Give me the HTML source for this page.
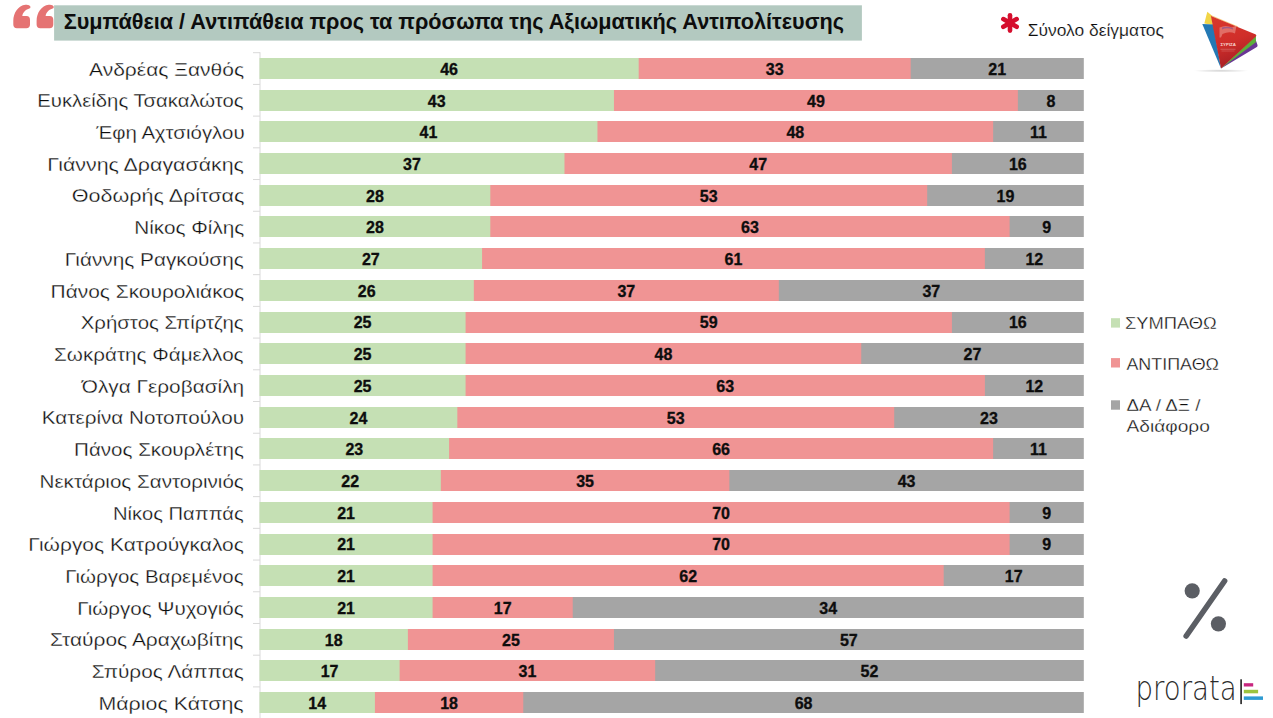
<!DOCTYPE html>
<html><head><meta charset="utf-8"><title>Συμπάθεια / Αντιπάθεια</title>
<style>html,body{margin:0;padding:0;background:#fff;}body{width:1273px;height:718px;overflow:hidden;}svg{display:block;}</style>
</head><body>
<svg width="1273" height="718" viewBox="0 0 1273 718">
<line x1="260.0" y1="52.2" x2="260.0" y2="718" stroke="#D9D9D9" stroke-width="1"/>
<line x1="253" y1="52.70" x2="260.0" y2="52.70" stroke="#D9D9D9" stroke-width="1"/>
<line x1="253" y1="84.41" x2="260.0" y2="84.41" stroke="#D9D9D9" stroke-width="1"/>
<line x1="253" y1="116.12" x2="260.0" y2="116.12" stroke="#D9D9D9" stroke-width="1"/>
<line x1="253" y1="147.83" x2="260.0" y2="147.83" stroke="#D9D9D9" stroke-width="1"/>
<line x1="253" y1="179.54" x2="260.0" y2="179.54" stroke="#D9D9D9" stroke-width="1"/>
<line x1="253" y1="211.25" x2="260.0" y2="211.25" stroke="#D9D9D9" stroke-width="1"/>
<line x1="253" y1="242.96" x2="260.0" y2="242.96" stroke="#D9D9D9" stroke-width="1"/>
<line x1="253" y1="274.67" x2="260.0" y2="274.67" stroke="#D9D9D9" stroke-width="1"/>
<line x1="253" y1="306.38" x2="260.0" y2="306.38" stroke="#D9D9D9" stroke-width="1"/>
<line x1="253" y1="338.09" x2="260.0" y2="338.09" stroke="#D9D9D9" stroke-width="1"/>
<line x1="253" y1="369.80" x2="260.0" y2="369.80" stroke="#D9D9D9" stroke-width="1"/>
<line x1="253" y1="401.51" x2="260.0" y2="401.51" stroke="#D9D9D9" stroke-width="1"/>
<line x1="253" y1="433.22" x2="260.0" y2="433.22" stroke="#D9D9D9" stroke-width="1"/>
<line x1="253" y1="464.93" x2="260.0" y2="464.93" stroke="#D9D9D9" stroke-width="1"/>
<line x1="253" y1="496.64" x2="260.0" y2="496.64" stroke="#D9D9D9" stroke-width="1"/>
<line x1="253" y1="528.35" x2="260.0" y2="528.35" stroke="#D9D9D9" stroke-width="1"/>
<line x1="253" y1="560.06" x2="260.0" y2="560.06" stroke="#D9D9D9" stroke-width="1"/>
<line x1="253" y1="591.77" x2="260.0" y2="591.77" stroke="#D9D9D9" stroke-width="1"/>
<line x1="253" y1="623.48" x2="260.0" y2="623.48" stroke="#D9D9D9" stroke-width="1"/>
<line x1="253" y1="655.19" x2="260.0" y2="655.19" stroke="#D9D9D9" stroke-width="1"/>
<line x1="253" y1="686.90" x2="260.0" y2="686.90" stroke="#D9D9D9" stroke-width="1"/>
<line x1="253" y1="718.61" x2="260.0" y2="718.61" stroke="#D9D9D9" stroke-width="1"/>
<rect x="909.70" y="58" width="174.10" height="21" fill="#A5A5A5"/>
<rect x="637.68" y="58" width="273.02" height="21" fill="#F09494"/>
<rect x="259.50" y="58" width="379.18" height="21" fill="#C5E0B4"/>
<text transform="translate(89.00,75.60) scale(1.0950,1)" font-family="Liberation Sans, sans-serif" font-size="19.2" font-weight="normal" fill="#0d0d0d" stroke="#fff" stroke-width="0.3">Ανδρέας Ξανθός</text>
<text x="449.09" y="74.80" text-anchor="middle" font-family="Liberation Sans, sans-serif" font-size="16" font-weight="bold" fill="#0d0d0d" stroke="#0d0d0d" stroke-width="0.3">46</text>
<text x="774.69" y="74.80" text-anchor="middle" font-family="Liberation Sans, sans-serif" font-size="16" font-weight="bold" fill="#0d0d0d" stroke="#0d0d0d" stroke-width="0.3">33</text>
<text x="997.25" y="74.80" text-anchor="middle" font-family="Liberation Sans, sans-serif" font-size="16" font-weight="bold" fill="#0d0d0d" stroke="#0d0d0d" stroke-width="0.3">21</text>
<rect x="1016.86" y="90" width="66.94" height="21" fill="#A5A5A5"/>
<rect x="612.95" y="90" width="404.91" height="21" fill="#F09494"/>
<rect x="259.50" y="90" width="354.45" height="21" fill="#C5E0B4"/>
<text transform="translate(37.34,107.31) scale(1.0567,1)" font-family="Liberation Sans, sans-serif" font-size="19.2" font-weight="normal" fill="#0d0d0d" stroke="#fff" stroke-width="0.3">Ευκλείδης Τσακαλώτος</text>
<text x="436.72" y="106.51" text-anchor="middle" font-family="Liberation Sans, sans-serif" font-size="16" font-weight="bold" fill="#0d0d0d" stroke="#0d0d0d" stroke-width="0.3">43</text>
<text x="815.90" y="106.51" text-anchor="middle" font-family="Liberation Sans, sans-serif" font-size="16" font-weight="bold" fill="#0d0d0d" stroke="#0d0d0d" stroke-width="0.3">49</text>
<text x="1050.83" y="106.51" text-anchor="middle" font-family="Liberation Sans, sans-serif" font-size="16" font-weight="bold" fill="#0d0d0d" stroke="#0d0d0d" stroke-width="0.3">8</text>
<rect x="992.13" y="121" width="91.67" height="21" fill="#A5A5A5"/>
<rect x="596.46" y="121" width="396.66" height="21" fill="#F09494"/>
<rect x="259.50" y="121" width="337.96" height="21" fill="#C5E0B4"/>
<text transform="translate(96.20,139.02) scale(1.0667,1)" font-family="Liberation Sans, sans-serif" font-size="19.2" font-weight="normal" fill="#0d0d0d" stroke="#fff" stroke-width="0.3">Έφη Αχτσιόγλου</text>
<text x="428.48" y="138.22" text-anchor="middle" font-family="Liberation Sans, sans-serif" font-size="16" font-weight="bold" fill="#0d0d0d" stroke="#0d0d0d" stroke-width="0.3">41</text>
<text x="795.30" y="138.22" text-anchor="middle" font-family="Liberation Sans, sans-serif" font-size="16" font-weight="bold" fill="#0d0d0d" stroke="#0d0d0d" stroke-width="0.3">48</text>
<text x="1038.46" y="138.22" text-anchor="middle" font-family="Liberation Sans, sans-serif" font-size="16" font-weight="bold" fill="#0d0d0d" stroke="#0d0d0d" stroke-width="0.3">11</text>
<rect x="950.91" y="153" width="132.89" height="21" fill="#A5A5A5"/>
<rect x="563.49" y="153" width="388.42" height="21" fill="#F09494"/>
<rect x="259.50" y="153" width="304.99" height="21" fill="#C5E0B4"/>
<text transform="translate(47.29,170.73) scale(1.1143,1)" font-family="Liberation Sans, sans-serif" font-size="19.2" font-weight="normal" fill="#0d0d0d" stroke="#fff" stroke-width="0.3">Γιάννης Δραγασάκης</text>
<text x="412.00" y="169.93" text-anchor="middle" font-family="Liberation Sans, sans-serif" font-size="16" font-weight="bold" fill="#0d0d0d" stroke="#0d0d0d" stroke-width="0.3">37</text>
<text x="758.20" y="169.93" text-anchor="middle" font-family="Liberation Sans, sans-serif" font-size="16" font-weight="bold" fill="#0d0d0d" stroke="#0d0d0d" stroke-width="0.3">47</text>
<text x="1017.86" y="169.93" text-anchor="middle" font-family="Liberation Sans, sans-serif" font-size="16" font-weight="bold" fill="#0d0d0d" stroke="#0d0d0d" stroke-width="0.3">16</text>
<rect x="926.18" y="185" width="157.62" height="21" fill="#A5A5A5"/>
<rect x="489.30" y="185" width="437.88" height="21" fill="#F09494"/>
<rect x="259.50" y="185" width="230.80" height="21" fill="#C5E0B4"/>
<text transform="translate(71.78,202.44) scale(1.1217,1)" font-family="Liberation Sans, sans-serif" font-size="19.2" font-weight="normal" fill="#0d0d0d" stroke="#fff" stroke-width="0.3">Θοδωρής Δρίτσας</text>
<text x="374.90" y="201.64" text-anchor="middle" font-family="Liberation Sans, sans-serif" font-size="16" font-weight="bold" fill="#0d0d0d" stroke="#0d0d0d" stroke-width="0.3">28</text>
<text x="708.74" y="201.64" text-anchor="middle" font-family="Liberation Sans, sans-serif" font-size="16" font-weight="bold" fill="#0d0d0d" stroke="#0d0d0d" stroke-width="0.3">53</text>
<text x="1005.49" y="201.64" text-anchor="middle" font-family="Liberation Sans, sans-serif" font-size="16" font-weight="bold" fill="#0d0d0d" stroke="#0d0d0d" stroke-width="0.3">19</text>
<rect x="1008.61" y="216" width="75.19" height="21" fill="#A5A5A5"/>
<rect x="489.30" y="216" width="520.31" height="21" fill="#F09494"/>
<rect x="259.50" y="216" width="230.80" height="21" fill="#C5E0B4"/>
<text transform="translate(134.22,234.15) scale(1.0810,1)" font-family="Liberation Sans, sans-serif" font-size="19.2" font-weight="normal" fill="#0d0d0d" stroke="#fff" stroke-width="0.3">Νίκος Φίλης</text>
<text x="374.90" y="233.35" text-anchor="middle" font-family="Liberation Sans, sans-serif" font-size="16" font-weight="bold" fill="#0d0d0d" stroke="#0d0d0d" stroke-width="0.3">28</text>
<text x="749.96" y="233.35" text-anchor="middle" font-family="Liberation Sans, sans-serif" font-size="16" font-weight="bold" fill="#0d0d0d" stroke="#0d0d0d" stroke-width="0.3">63</text>
<text x="1046.71" y="233.35" text-anchor="middle" font-family="Liberation Sans, sans-serif" font-size="16" font-weight="bold" fill="#0d0d0d" stroke="#0d0d0d" stroke-width="0.3">9</text>
<rect x="983.88" y="248" width="99.92" height="21" fill="#A5A5A5"/>
<rect x="481.06" y="248" width="503.82" height="21" fill="#F09494"/>
<rect x="259.50" y="248" width="222.56" height="21" fill="#C5E0B4"/>
<text transform="translate(64.72,265.86) scale(1.0829,1)" font-family="Liberation Sans, sans-serif" font-size="19.2" font-weight="normal" fill="#0d0d0d" stroke="#fff" stroke-width="0.3">Γιάννης Ραγκούσης</text>
<text x="370.78" y="265.06" text-anchor="middle" font-family="Liberation Sans, sans-serif" font-size="16" font-weight="bold" fill="#0d0d0d" stroke="#0d0d0d" stroke-width="0.3">27</text>
<text x="733.47" y="265.06" text-anchor="middle" font-family="Liberation Sans, sans-serif" font-size="16" font-weight="bold" fill="#0d0d0d" stroke="#0d0d0d" stroke-width="0.3">61</text>
<text x="1034.34" y="265.06" text-anchor="middle" font-family="Liberation Sans, sans-serif" font-size="16" font-weight="bold" fill="#0d0d0d" stroke="#0d0d0d" stroke-width="0.3">12</text>
<rect x="777.81" y="280" width="305.99" height="21" fill="#A5A5A5"/>
<rect x="472.82" y="280" width="305.99" height="21" fill="#F09494"/>
<rect x="259.50" y="280" width="214.32" height="21" fill="#C5E0B4"/>
<text transform="translate(50.61,297.57) scale(1.0892,1)" font-family="Liberation Sans, sans-serif" font-size="19.2" font-weight="normal" fill="#0d0d0d" stroke="#fff" stroke-width="0.3">Πάνος Σκουρολιάκος</text>
<text x="366.66" y="296.77" text-anchor="middle" font-family="Liberation Sans, sans-serif" font-size="16" font-weight="bold" fill="#0d0d0d" stroke="#0d0d0d" stroke-width="0.3">26</text>
<text x="626.31" y="296.77" text-anchor="middle" font-family="Liberation Sans, sans-serif" font-size="16" font-weight="bold" fill="#0d0d0d" stroke="#0d0d0d" stroke-width="0.3">37</text>
<text x="931.30" y="296.77" text-anchor="middle" font-family="Liberation Sans, sans-serif" font-size="16" font-weight="bold" fill="#0d0d0d" stroke="#0d0d0d" stroke-width="0.3">37</text>
<rect x="950.91" y="312" width="132.89" height="21" fill="#A5A5A5"/>
<rect x="464.58" y="312" width="487.34" height="21" fill="#F09494"/>
<rect x="259.50" y="312" width="206.08" height="21" fill="#C5E0B4"/>
<text transform="translate(80.74,329.28) scale(1.0632,1)" font-family="Liberation Sans, sans-serif" font-size="19.2" font-weight="normal" fill="#0d0d0d" stroke="#fff" stroke-width="0.3">Χρήστος Σπίρτζης</text>
<text x="362.54" y="328.48" text-anchor="middle" font-family="Liberation Sans, sans-serif" font-size="16" font-weight="bold" fill="#0d0d0d" stroke="#0d0d0d" stroke-width="0.3">25</text>
<text x="708.74" y="328.48" text-anchor="middle" font-family="Liberation Sans, sans-serif" font-size="16" font-weight="bold" fill="#0d0d0d" stroke="#0d0d0d" stroke-width="0.3">59</text>
<text x="1017.86" y="328.48" text-anchor="middle" font-family="Liberation Sans, sans-serif" font-size="16" font-weight="bold" fill="#0d0d0d" stroke="#0d0d0d" stroke-width="0.3">16</text>
<rect x="860.24" y="343" width="223.56" height="21" fill="#A5A5A5"/>
<rect x="464.58" y="343" width="396.66" height="21" fill="#F09494"/>
<rect x="259.50" y="343" width="206.08" height="21" fill="#C5E0B4"/>
<text transform="translate(54.02,360.99) scale(1.0760,1)" font-family="Liberation Sans, sans-serif" font-size="19.2" font-weight="normal" fill="#0d0d0d" stroke="#fff" stroke-width="0.3">Σωκράτης Φάμελλος</text>
<text x="362.54" y="360.19" text-anchor="middle" font-family="Liberation Sans, sans-serif" font-size="16" font-weight="bold" fill="#0d0d0d" stroke="#0d0d0d" stroke-width="0.3">25</text>
<text x="663.41" y="360.19" text-anchor="middle" font-family="Liberation Sans, sans-serif" font-size="16" font-weight="bold" fill="#0d0d0d" stroke="#0d0d0d" stroke-width="0.3">48</text>
<text x="972.52" y="360.19" text-anchor="middle" font-family="Liberation Sans, sans-serif" font-size="16" font-weight="bold" fill="#0d0d0d" stroke="#0d0d0d" stroke-width="0.3">27</text>
<rect x="983.88" y="375" width="99.92" height="21" fill="#A5A5A5"/>
<rect x="464.58" y="375" width="520.31" height="21" fill="#F09494"/>
<rect x="259.50" y="375" width="206.08" height="21" fill="#C5E0B4"/>
<text transform="translate(81.78,392.70) scale(1.0847,1)" font-family="Liberation Sans, sans-serif" font-size="19.2" font-weight="normal" fill="#0d0d0d" stroke="#fff" stroke-width="0.3">Όλγα Γεροβασίλη</text>
<text x="362.54" y="391.90" text-anchor="middle" font-family="Liberation Sans, sans-serif" font-size="16" font-weight="bold" fill="#0d0d0d" stroke="#0d0d0d" stroke-width="0.3">25</text>
<text x="725.23" y="391.90" text-anchor="middle" font-family="Liberation Sans, sans-serif" font-size="16" font-weight="bold" fill="#0d0d0d" stroke="#0d0d0d" stroke-width="0.3">63</text>
<text x="1034.34" y="391.90" text-anchor="middle" font-family="Liberation Sans, sans-serif" font-size="16" font-weight="bold" fill="#0d0d0d" stroke="#0d0d0d" stroke-width="0.3">12</text>
<rect x="893.21" y="407" width="190.59" height="21" fill="#A5A5A5"/>
<rect x="456.33" y="407" width="437.88" height="21" fill="#F09494"/>
<rect x="259.50" y="407" width="197.83" height="21" fill="#C5E0B4"/>
<text transform="translate(41.72,424.41) scale(1.0785,1)" font-family="Liberation Sans, sans-serif" font-size="19.2" font-weight="normal" fill="#0d0d0d" stroke="#fff" stroke-width="0.3">Κατερίνα Νοτοπούλου</text>
<text x="358.42" y="423.61" text-anchor="middle" font-family="Liberation Sans, sans-serif" font-size="16" font-weight="bold" fill="#0d0d0d" stroke="#0d0d0d" stroke-width="0.3">24</text>
<text x="675.77" y="423.61" text-anchor="middle" font-family="Liberation Sans, sans-serif" font-size="16" font-weight="bold" fill="#0d0d0d" stroke="#0d0d0d" stroke-width="0.3">53</text>
<text x="989.01" y="423.61" text-anchor="middle" font-family="Liberation Sans, sans-serif" font-size="16" font-weight="bold" fill="#0d0d0d" stroke="#0d0d0d" stroke-width="0.3">23</text>
<rect x="992.13" y="438" width="91.67" height="21" fill="#A5A5A5"/>
<rect x="448.09" y="438" width="545.04" height="21" fill="#F09494"/>
<rect x="259.50" y="438" width="189.59" height="21" fill="#C5E0B4"/>
<text transform="translate(74.03,456.12) scale(1.0720,1)" font-family="Liberation Sans, sans-serif" font-size="19.2" font-weight="normal" fill="#0d0d0d" stroke="#fff" stroke-width="0.3">Πάνος Σκουρλέτης</text>
<text x="354.29" y="455.32" text-anchor="middle" font-family="Liberation Sans, sans-serif" font-size="16" font-weight="bold" fill="#0d0d0d" stroke="#0d0d0d" stroke-width="0.3">23</text>
<text x="721.11" y="455.32" text-anchor="middle" font-family="Liberation Sans, sans-serif" font-size="16" font-weight="bold" fill="#0d0d0d" stroke="#0d0d0d" stroke-width="0.3">66</text>
<text x="1038.46" y="455.32" text-anchor="middle" font-family="Liberation Sans, sans-serif" font-size="16" font-weight="bold" fill="#0d0d0d" stroke="#0d0d0d" stroke-width="0.3">11</text>
<rect x="728.35" y="470" width="355.45" height="21" fill="#A5A5A5"/>
<rect x="439.85" y="470" width="289.50" height="21" fill="#F09494"/>
<rect x="259.50" y="470" width="181.35" height="21" fill="#C5E0B4"/>
<text transform="translate(39.53,487.83) scale(1.0730,1)" font-family="Liberation Sans, sans-serif" font-size="19.2" font-weight="normal" fill="#0d0d0d" stroke="#fff" stroke-width="0.3">Νεκτάριος Σαντορινιός</text>
<text x="350.17" y="487.03" text-anchor="middle" font-family="Liberation Sans, sans-serif" font-size="16" font-weight="bold" fill="#0d0d0d" stroke="#0d0d0d" stroke-width="0.3">22</text>
<text x="585.10" y="487.03" text-anchor="middle" font-family="Liberation Sans, sans-serif" font-size="16" font-weight="bold" fill="#0d0d0d" stroke="#0d0d0d" stroke-width="0.3">35</text>
<text x="906.58" y="487.03" text-anchor="middle" font-family="Liberation Sans, sans-serif" font-size="16" font-weight="bold" fill="#0d0d0d" stroke="#0d0d0d" stroke-width="0.3">43</text>
<rect x="1008.61" y="502" width="75.19" height="21" fill="#A5A5A5"/>
<rect x="431.60" y="502" width="578.01" height="21" fill="#F09494"/>
<rect x="259.50" y="502" width="173.10" height="21" fill="#C5E0B4"/>
<text transform="translate(113.05,519.54) scale(1.0512,1)" font-family="Liberation Sans, sans-serif" font-size="19.2" font-weight="normal" fill="#0d0d0d" stroke="#fff" stroke-width="0.3">Νίκος Παππάς</text>
<text x="346.05" y="518.74" text-anchor="middle" font-family="Liberation Sans, sans-serif" font-size="16" font-weight="bold" fill="#0d0d0d" stroke="#0d0d0d" stroke-width="0.3">21</text>
<text x="721.11" y="518.74" text-anchor="middle" font-family="Liberation Sans, sans-serif" font-size="16" font-weight="bold" fill="#0d0d0d" stroke="#0d0d0d" stroke-width="0.3">70</text>
<text x="1046.71" y="518.74" text-anchor="middle" font-family="Liberation Sans, sans-serif" font-size="16" font-weight="bold" fill="#0d0d0d" stroke="#0d0d0d" stroke-width="0.3">9</text>
<rect x="1008.61" y="534" width="75.19" height="21" fill="#A5A5A5"/>
<rect x="431.60" y="534" width="578.01" height="21" fill="#F09494"/>
<rect x="259.50" y="534" width="173.10" height="21" fill="#C5E0B4"/>
<text transform="translate(28.31,551.25) scale(1.0918,1)" font-family="Liberation Sans, sans-serif" font-size="19.2" font-weight="normal" fill="#0d0d0d" stroke="#fff" stroke-width="0.3">Γιώργος Κατρούγκαλος</text>
<text x="346.05" y="550.45" text-anchor="middle" font-family="Liberation Sans, sans-serif" font-size="16" font-weight="bold" fill="#0d0d0d" stroke="#0d0d0d" stroke-width="0.3">21</text>
<text x="721.11" y="550.45" text-anchor="middle" font-family="Liberation Sans, sans-serif" font-size="16" font-weight="bold" fill="#0d0d0d" stroke="#0d0d0d" stroke-width="0.3">70</text>
<text x="1046.71" y="550.45" text-anchor="middle" font-family="Liberation Sans, sans-serif" font-size="16" font-weight="bold" fill="#0d0d0d" stroke="#0d0d0d" stroke-width="0.3">9</text>
<rect x="942.67" y="565" width="141.13" height="21" fill="#A5A5A5"/>
<rect x="431.60" y="565" width="512.07" height="21" fill="#F09494"/>
<rect x="259.50" y="565" width="173.10" height="21" fill="#C5E0B4"/>
<text transform="translate(65.13,582.96) scale(1.0675,1)" font-family="Liberation Sans, sans-serif" font-size="19.2" font-weight="normal" fill="#0d0d0d" stroke="#fff" stroke-width="0.3">Γιώργος Βαρεμένος</text>
<text x="346.05" y="582.16" text-anchor="middle" font-family="Liberation Sans, sans-serif" font-size="16" font-weight="bold" fill="#0d0d0d" stroke="#0d0d0d" stroke-width="0.3">21</text>
<text x="688.14" y="582.16" text-anchor="middle" font-family="Liberation Sans, sans-serif" font-size="16" font-weight="bold" fill="#0d0d0d" stroke="#0d0d0d" stroke-width="0.3">62</text>
<text x="1013.73" y="582.16" text-anchor="middle" font-family="Liberation Sans, sans-serif" font-size="16" font-weight="bold" fill="#0d0d0d" stroke="#0d0d0d" stroke-width="0.3">17</text>
<rect x="571.73" y="597" width="512.07" height="21" fill="#A5A5A5"/>
<rect x="431.60" y="597" width="141.13" height="21" fill="#F09494"/>
<rect x="259.50" y="597" width="173.10" height="21" fill="#C5E0B4"/>
<text transform="translate(77.33,614.67) scale(1.0714,1)" font-family="Liberation Sans, sans-serif" font-size="19.2" font-weight="normal" fill="#0d0d0d" stroke="#fff" stroke-width="0.3">Γιώργος Ψυχογιός</text>
<text x="346.05" y="613.87" text-anchor="middle" font-family="Liberation Sans, sans-serif" font-size="16" font-weight="bold" fill="#0d0d0d" stroke="#0d0d0d" stroke-width="0.3">21</text>
<text x="502.67" y="613.87" text-anchor="middle" font-family="Liberation Sans, sans-serif" font-size="16" font-weight="bold" fill="#0d0d0d" stroke="#0d0d0d" stroke-width="0.3">17</text>
<text x="828.27" y="613.87" text-anchor="middle" font-family="Liberation Sans, sans-serif" font-size="16" font-weight="bold" fill="#0d0d0d" stroke="#0d0d0d" stroke-width="0.3">34</text>
<rect x="612.95" y="629" width="470.85" height="21" fill="#A5A5A5"/>
<rect x="406.87" y="629" width="207.08" height="21" fill="#F09494"/>
<rect x="259.50" y="629" width="148.37" height="21" fill="#C5E0B4"/>
<text transform="translate(50.01,646.38) scale(1.0926,1)" font-family="Liberation Sans, sans-serif" font-size="19.2" font-weight="normal" fill="#0d0d0d" stroke="#fff" stroke-width="0.3">Σταύρος Αραχωβίτης</text>
<text x="333.69" y="645.58" text-anchor="middle" font-family="Liberation Sans, sans-serif" font-size="16" font-weight="bold" fill="#0d0d0d" stroke="#0d0d0d" stroke-width="0.3">18</text>
<text x="510.91" y="645.58" text-anchor="middle" font-family="Liberation Sans, sans-serif" font-size="16" font-weight="bold" fill="#0d0d0d" stroke="#0d0d0d" stroke-width="0.3">25</text>
<text x="848.87" y="645.58" text-anchor="middle" font-family="Liberation Sans, sans-serif" font-size="16" font-weight="bold" fill="#0d0d0d" stroke="#0d0d0d" stroke-width="0.3">57</text>
<rect x="654.16" y="660" width="429.64" height="21" fill="#A5A5A5"/>
<rect x="398.63" y="660" width="256.53" height="21" fill="#F09494"/>
<rect x="259.50" y="660" width="140.13" height="21" fill="#C5E0B4"/>
<text transform="translate(91.82,678.09) scale(1.0827,1)" font-family="Liberation Sans, sans-serif" font-size="19.2" font-weight="normal" fill="#0d0d0d" stroke="#fff" stroke-width="0.3">Σπύρος Λάππας</text>
<text x="329.57" y="677.29" text-anchor="middle" font-family="Liberation Sans, sans-serif" font-size="16" font-weight="bold" fill="#0d0d0d" stroke="#0d0d0d" stroke-width="0.3">17</text>
<text x="527.40" y="677.29" text-anchor="middle" font-family="Liberation Sans, sans-serif" font-size="16" font-weight="bold" fill="#0d0d0d" stroke="#0d0d0d" stroke-width="0.3">31</text>
<text x="869.48" y="677.29" text-anchor="middle" font-family="Liberation Sans, sans-serif" font-size="16" font-weight="bold" fill="#0d0d0d" stroke="#0d0d0d" stroke-width="0.3">52</text>
<rect x="522.28" y="692" width="561.52" height="21" fill="#A5A5A5"/>
<rect x="373.90" y="692" width="149.37" height="21" fill="#F09494"/>
<rect x="259.50" y="692" width="115.40" height="21" fill="#C5E0B4"/>
<text transform="translate(98.38,709.80) scale(1.1155,1)" font-family="Liberation Sans, sans-serif" font-size="19.2" font-weight="normal" fill="#0d0d0d" stroke="#fff" stroke-width="0.3">Μάριος Κάτσης</text>
<text x="317.20" y="709.00" text-anchor="middle" font-family="Liberation Sans, sans-serif" font-size="16" font-weight="bold" fill="#0d0d0d" stroke="#0d0d0d" stroke-width="0.3">14</text>
<text x="449.09" y="709.00" text-anchor="middle" font-family="Liberation Sans, sans-serif" font-size="16" font-weight="bold" fill="#0d0d0d" stroke="#0d0d0d" stroke-width="0.3">18</text>
<text x="803.54" y="709.00" text-anchor="middle" font-family="Liberation Sans, sans-serif" font-size="16" font-weight="bold" fill="#0d0d0d" stroke="#0d0d0d" stroke-width="0.3">68</text>
<rect x="54.1" y="5.3" width="807.8" height="35.3" fill="#B3C9C0"/>
<text transform="translate(63.68,28.90) scale(1.0172,1)" font-family="Liberation Sans, sans-serif" font-size="21.3" font-weight="bold" fill="#0d0d0d">Συμπάθεια / Αντιπάθεια προς τα πρόσωπα της Αξιωματικής Αντιπολίτευσης</text>
<path transform="translate(0,0)" d="M13.3 21 C13.3 13 18 5.5 25.5 4.7 Q29.5 4.3 30.4 6.4 Q31 8.2 28.8 8.8 C25.5 9.8 22.8 12.5 22.3 16 L26.5 16 Q30 16 30 20 L30 24.6 Q30 28.3 26.3 28.3 L17 28.3 Q13.3 28.3 13.3 24.6 Z" fill="#E57373"/>
<path transform="translate(23.3,0)" d="M13.3 21 C13.3 13 18 5.5 25.5 4.7 Q29.5 4.3 30.4 6.4 Q31 8.2 28.8 8.8 C25.5 9.8 22.8 12.5 22.3 16 L26.5 16 Q30 16 30 20 L30 24.6 Q30 28.3 26.3 28.3 L17 28.3 Q13.3 28.3 13.3 24.6 Z" fill="#E57373"/>
<rect x="1111" y="318.2" width="9" height="9.4" fill="#C5E0B4"/>
<text transform="translate(1124.93,328.90) scale(1.0726,1)" font-family="Liberation Sans, sans-serif" font-size="17.1" font-weight="normal" fill="#0d0d0d" stroke="#fff" stroke-width="0.3">ΣΥΜΠΑΘΩ</text>
<rect x="1111" y="358.1" width="9" height="9.4" fill="#F09494"/>
<text transform="translate(1126.40,369.80) scale(1.0466,1)" font-family="Liberation Sans, sans-serif" font-size="17.1" font-weight="normal" fill="#0d0d0d" stroke="#fff" stroke-width="0.3">ΑΝΤΙΠΑΘΩ</text>
<rect x="1111" y="400.3" width="9" height="9.4" fill="#A5A5A5"/>
<text transform="translate(1126.50,410.60) scale(1.1000,1)" font-family="Liberation Sans, sans-serif" font-size="17.1" font-weight="normal" fill="#0d0d0d" stroke="#fff" stroke-width="0.3">ΔΑ / ΔΞ /</text>
<text transform="translate(1126.50,431.70) scale(1.1203,1)" font-family="Liberation Sans, sans-serif" font-size="17.1" font-weight="normal" fill="#0d0d0d" stroke="#fff" stroke-width="0.3">Αδιάφορο</text>
<g stroke="#D50F2E" stroke-width="4.6" stroke-linecap="round"><line x1="1010.00" y1="15.20" x2="1010.00" y2="30.60"/><line x1="1016.67" y1="19.05" x2="1003.33" y2="26.75"/><line x1="1016.67" y1="26.75" x2="1003.33" y2="19.05"/></g>
<text transform="translate(1027.78,35.80) scale(1.1165,1)" font-family="Liberation Sans, sans-serif" font-size="15.6" font-weight="normal" fill="#0d0d0d" stroke="#fff" stroke-width="0.15">Σύνολο δείγματος</text>
<g fill="#5B5E64"><circle cx="1192.2" cy="590.8" r="7.6"/><circle cx="1218.4" cy="623.8" r="7.6"/></g>
<line x1="1224.6" y1="581" x2="1186.2" y2="636" stroke="#5B5E64" stroke-width="5.6" stroke-linecap="round"/>
<text transform="translate(1135.55,699.50) scale(0.8128,1)" font-family="DejaVu Sans, sans-serif" font-size="34" font-weight="200" fill="#2b2b2b">prorata</text>
<rect x="1240.3" y="679.3" width="1.6" height="24.8" fill="#222"/>
<rect x="1243.8" y="683.2" width="9.4" height="3.3" fill="#C8267F"/>
<rect x="1243.8" y="689.8" width="14.3" height="3.5" fill="#9CC43E"/>
<rect x="1243.8" y="696.4" width="19.2" height="3.5" fill="#2E9BD2"/>
<defs><linearGradient id="rg" x1="0" y1="0" x2="0.3" y2="1"><stop offset="0" stop-color="#D9392C"/><stop offset="0.55" stop-color="#D02E2A"/><stop offset="1" stop-color="#A81E24"/></linearGradient>
<radialGradient id="sh" cx="0.5" cy="0.5" r="0.5"><stop offset="0" stop-color="#000" stop-opacity="0.18"/><stop offset="1" stop-color="#000" stop-opacity="0"/></radialGradient></defs>
<ellipse cx="1221" cy="70.8" rx="28" ry="1.6" fill="url(#sh)"/>
<path d="M1207.3 11.8 L1211.5 15.3 L1212.8 25 L1204.3 23.6 Z" fill="#F2D546"/>
<line x1="1210.5" y1="15.4" x2="1238" y2="27" stroke="#F3B24A" stroke-width="1.1" stroke-opacity="0.7"/>
<path d="M1202.3 24.1 L1213.5 24.5 L1221 68.5 Z" fill="#2479B4"/>
<path d="M1221 68.5 L1255 38 L1257.6 45.2 Q1257.6 47 1256 47.6 Z" fill="#6A3596"/>
<path d="M1221 68.5 L1256 35.5 L1255.8 42.2 Z" fill="#5DAE3A"/>
<path d="M1210.9 15.9 L1255.3 34.3 Q1257.2 35.3 1255.6 36.8 L1221 68.5 Z" fill="url(#rg)"/>
<path d="M1219.5 27.5 Q1226 24.5 1232 27.5 L1236.5 25.5 L1235 33.5 Q1229 31 1222.5 34 L1221 37.5 L1219.5 37.5 Z" fill="#F2B8B0" fill-opacity="0.45"/>
<path d="M1222 27.6 Q1227 25.6 1233 28.2 L1233 29.6 Q1227 27.2 1222 29.4 Z" fill="#7A4C9A" fill-opacity="0.6"/>
<text x="1228.2" y="46.1" text-anchor="middle" font-family="Liberation Sans, sans-serif" font-size="4.3" font-weight="bold" fill="#F8D6D0" textLength="15.4" lengthAdjust="spacingAndGlyphs">ΣΥΡΙΖΑ</text>
<rect x="1220.5" y="48.8" width="15" height="0.8" fill="#E8A09A" fill-opacity="0.5"/>
<rect x="1221.5" y="50.6" width="13" height="0.8" fill="#E8A09A" fill-opacity="0.4"/>

</svg>
</body></html>
